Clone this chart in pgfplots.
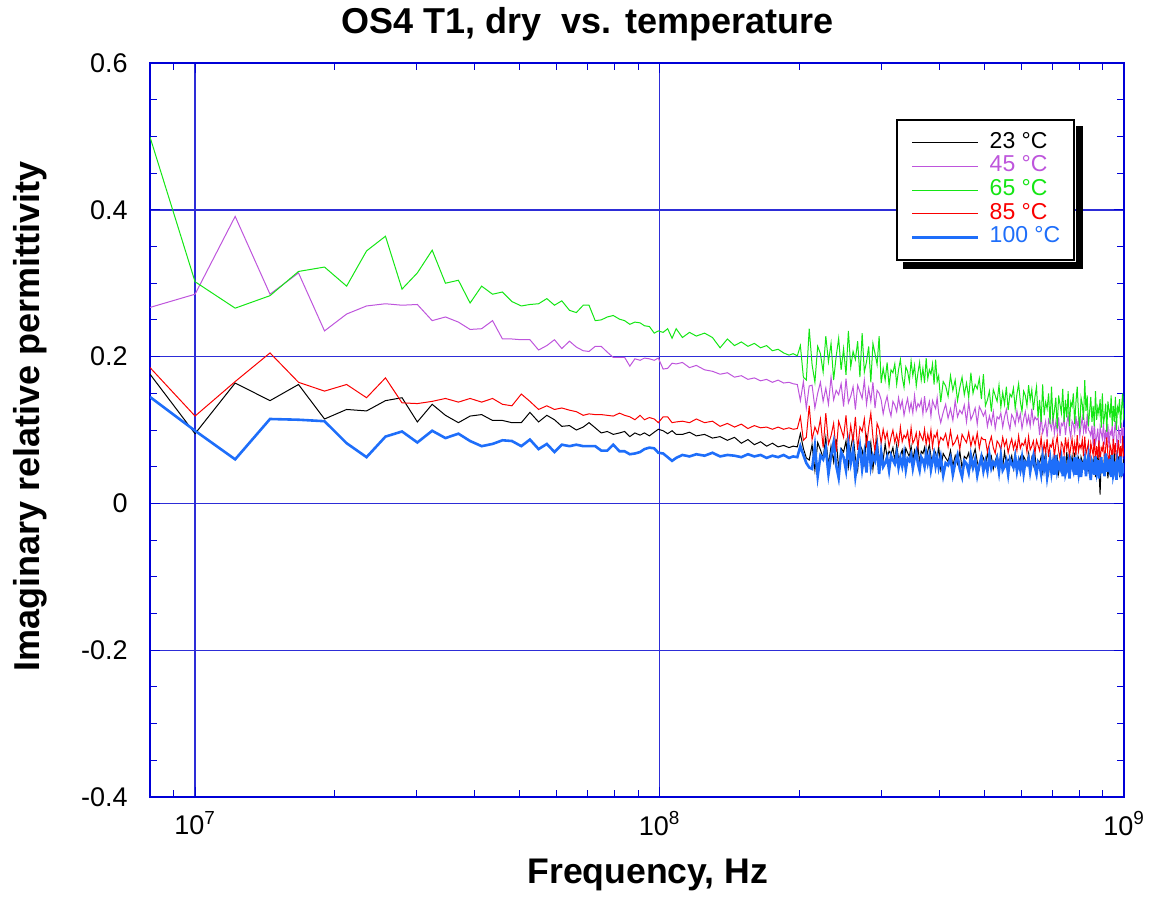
\documentclass[border=0pt]{standalone}
\usepackage{fontspec}
\setmainfont{Liberation Sans}
\usepackage{pgfplots}
\pgfplotsset{compat=1.18}
\usepackage{pgfplotstable}

\definecolor{axblue}{RGB}{0,0,215}
\definecolor{gridblue}{RGB}{45,45,215}
\definecolor{cpurple}{RGB}{190,85,220}
\definecolor{cgreen}{RGB}{20,230,20}
\definecolor{cred}{RGB}{250,0,0}
\definecolor{cblue}{RGB}{30,110,250}

\pgfplotstableread{
f s23 s45 s65 s85 s100
8.0e6 0.176 0.267 0.499 0.185 0.145
10.0e6 0.095 0.285 0.302 0.119 0.099
12.2e6 0.164 0.391 0.266 0.166 0.060
14.5e6 0.140 0.285 0.283 0.205 0.115
16.7e6 0.162 0.314 0.316 0.165 0.114
19.0e6 0.115 0.235 0.322 0.153 0.112
21.2e6 0.128 0.258 0.296 0.162 0.082
23.4e6 0.126 0.269 0.344 0.144 0.063
25.7e6 0.140 0.272 0.364 0.171 0.091
27.9e6 0.144 0.270 0.292 0.137 0.098
30.1e6 0.111 0.271 0.314 0.136 0.083
32.4e6 0.135 0.249 0.345 0.139 0.099
34.6e6 0.120 0.254 0.300 0.143 0.089
36.9e6 0.110 0.247 0.304 0.138 0.095
39.1e6 0.119 0.237 0.273 0.143 0.085
41.4e6 0.121 0.238 0.296 0.138 0.078
43.7e6 0.113 0.249 0.285 0.143 0.081
45.9e6 0.113 0.224 0.288 0.135 0.086
48.1e6 0.110 0.224 0.275 0.133 0.085
50.4e6 0.110 0.223 0.269 0.149 0.078
52.6e6 0.124 0.223 0.271 0.139 0.087
54.9e6 0.111 0.209 0.272 0.128 0.074
57.2e6 0.120 0.215 0.279 0.133 0.081
59.4e6 0.114 0.223 0.270 0.128 0.070
61.6e6 0.105 0.211 0.276 0.130 0.080
64.0e6 0.106 0.221 0.263 0.127 0.078
66.2e6 0.100 0.213 0.260 0.125 0.080
68.5e6 0.104 0.208 0.270 0.120 0.078
70.5e6 0.110 0.207 0.270 0.122 0.078
72.7e6 0.103 0.214 0.249 0.121 0.078
74.9e6 0.096 0.214 0.250 0.121 0.072
77.2e6 0.098 0.206 0.254 0.120 0.072
79.5e6 0.094 0.199 0.256 0.119 0.080
82.0e6 0.096 0.199 0.251 0.123 0.071
84.1e6 0.098 0.199 0.249 0.120 0.071
86.3e6 0.091 0.187 0.244 0.118 0.067
88.5e6 0.096 0.197 0.247 0.114 0.068
90.8e6 0.093 0.195 0.246 0.120 0.070
92.8e6 0.096 0.198 0.242 0.114 0.074
95.1e6 0.092 0.197 0.241 0.117 0.076
97.4e6 0.097 0.195 0.232 0.115 0.075
99.4e6 0.101 0.198 0.235 0.110 0.069
101.8e6 0.099 0.183 0.233 0.118 0.068
104.1e6 0.095 0.184 0.238 0.118 0.063
106.4e6 0.099 0.191 0.225 0.110 0.058
108.6e6 0.094 0.190 0.238 0.111 0.062
112e6 0.094 0.192 0.226 0.112 0.066
116e6 0.097 0.185 0.233 0.110 0.064
120e6 0.092 0.188 0.228 0.115 0.067
125e6 0.094 0.182 0.232 0.110 0.065
130e6 0.089 0.180 0.226 0.112 0.069
135e6 0.091 0.176 0.212 0.105 0.064
140e6 0.086 0.178 0.224 0.109 0.066
145e6 0.090 0.172 0.215 0.104 0.065
150e6 0.082 0.174 0.220 0.108 0.063
155e6 0.087 0.169 0.214 0.102 0.067
160e6 0.080 0.171 0.218 0.106 0.064
165e6 0.084 0.167 0.212 0.103 0.066
170e6 0.078 0.169 0.215 0.104 0.062
175e6 0.082 0.165 0.208 0.101 0.065
180e6 0.077 0.168 0.210 0.104 0.063
185e6 0.079 0.164 0.205 0.101 0.066
190e6 0.076 0.165 0.202 0.103 0.062
194e6 0.078 0.163 0.204 0.101 0.064
198e6 0.077 0.162 0.201 0.102 0.063
201e6 0.095 0.140 0.215 0.118 0.078
204e6 0.075 0.166 0.172 0.086 0.066
207e6 0.062 0.130 0.168 0.090 0.055
210e6 0.059 0.160 0.238 0.133 0.049
213e6 0.080 0.161 0.189 0.087 0.047
216e6 0.045 0.130 0.165 0.104 0.078
219e6 0.083 0.150 0.214 0.095 0.037
222e6 0.073 0.165 0.204 0.115 0.065
225e6 0.062 0.139 0.179 0.076 0.060
228e6 0.090 0.157 0.228 0.123 0.075
231e6 0.052 0.135 0.193 0.081 0.040
234e6 0.078 0.172 0.218 0.092 0.065
237e6 0.057 0.141 0.168 0.109 0.083
240e6 0.088 0.154 0.200 0.070 0.052
243e6 0.047 0.148 0.225 0.112 0.035
246e6 0.075 0.163 0.182 0.101 0.070
249e6 0.070 0.132 0.211 0.090 0.063
252e6 0.085 0.170 0.175 0.120 0.045
255e6 0.050 0.137 0.235 0.078 0.080
258e6 0.075 0.146 0.186 0.106 0.055
261e6 0.093 0.159 0.207 0.084 0.073
264e6 0.062 0.128 0.196 0.118 0.037
267e6 0.045 0.161 0.221 0.073 0.060
270e6 0.080 0.152 0.172 0.104 0.078
273e6 0.073 0.143 0.232 0.098 0.047
276e6 0.055 0.168 0.179 0.115 0.068
279e6 0.090 0.135 0.193 0.076 0.042
282e6 0.065 0.157 0.214 0.104 0.085
285e6 0.083 0.139 0.165 0.123 0.050
288e6 0.047 0.165 0.218 0.090 0.065
291e6 0.070 0.130 0.204 0.070 0.058
294e6 0.088 0.154 0.189 0.109 0.075
297e6 0.057 0.150 0.228 0.101 0.040
300e6 0.072 0.141 0.164 0.082 0.070
303e6 0.059 0.122 0.184 0.101 0.050
306e6 0.081 0.136 0.168 0.087 0.055
309e6 0.063 0.146 0.192 0.097 0.063
312e6 0.071 0.129 0.160 0.077 0.045
315e6 0.067 0.119 0.182 0.090 0.065
318e6 0.076 0.139 0.178 0.100 0.059
321e6 0.058 0.134 0.190 0.083 0.054
324e6 0.080 0.125 0.162 0.094 0.068
327e6 0.060 0.144 0.182 0.080 0.049
330e6 0.065 0.130 0.196 0.104 0.062
333e6 0.073 0.140 0.172 0.084 0.051
336e6 0.055 0.120 0.158 0.093 0.067
339e6 0.075 0.133 0.186 0.089 0.046
342e6 0.069 0.143 0.180 0.098 0.061
345e6 0.064 0.126 0.166 0.079 0.058
348e6 0.078 0.137 0.194 0.103 0.066
351e6 0.059 0.123 0.174 0.082 0.048
354e6 0.072 0.147 0.188 0.087 0.061
357e6 0.061 0.127 0.160 0.096 0.070
360e6 0.077 0.136 0.178 0.076 0.054
363e6 0.056 0.132 0.192 0.097 0.045
366e6 0.071 0.141 0.168 0.091 0.063
369e6 0.068 0.122 0.184 0.086 0.059
372e6 0.076 0.146 0.164 0.101 0.050
375e6 0.058 0.125 0.198 0.080 0.068
378e6 0.071 0.130 0.170 0.094 0.055
381e6 0.080 0.139 0.182 0.083 0.065
384e6 0.064 0.119 0.176 0.100 0.046
387e6 0.055 0.140 0.190 0.077 0.058
390e6 0.073 0.134 0.162 0.093 0.067
393e6 0.069 0.129 0.196 0.090 0.051
396e6 0.060 0.144 0.166 0.098 0.062
399e6 0.078 0.123 0.174 0.079 0.049
403e6 0.047 0.110 0.138 0.090 0.063
408e6 0.068 0.124 0.166 0.086 0.038
413e6 0.062 0.135 0.160 0.095 0.055
418e6 0.057 0.116 0.146 0.077 0.052
423e6 0.072 0.129 0.174 0.099 0.062
428e6 0.051 0.113 0.154 0.079 0.039
433e6 0.065 0.140 0.168 0.084 0.055
438e6 0.054 0.118 0.140 0.092 0.066
443e6 0.071 0.127 0.158 0.074 0.047
448e6 0.048 0.122 0.172 0.094 0.036
453e6 0.064 0.134 0.148 0.088 0.058
458e6 0.061 0.111 0.164 0.083 0.054
463e6 0.069 0.138 0.144 0.097 0.042
468e6 0.050 0.114 0.178 0.078 0.065
473e6 0.064 0.121 0.150 0.091 0.049
478e6 0.074 0.130 0.162 0.080 0.060
483e6 0.057 0.108 0.156 0.096 0.038
488e6 0.047 0.132 0.170 0.075 0.052
493e6 0.067 0.126 0.142 0.090 0.063
498e6 0.062 0.119 0.176 0.087 0.044
503e6 0.051 0.126 0.133 0.087 0.057
508e6 0.068 0.105 0.141 0.070 0.044
513e6 0.056 0.119 0.153 0.082 0.066
518e6 0.064 0.108 0.125 0.091 0.048
523e6 0.047 0.125 0.155 0.076 0.056
528e6 0.058 0.102 0.147 0.068 0.052
533e6 0.066 0.118 0.139 0.085 0.061
538e6 0.052 0.115 0.161 0.081 0.043
543e6 0.062 0.123 0.131 0.073 0.065
548e6 0.050 0.104 0.151 0.090 0.045
553e6 0.070 0.118 0.135 0.078 0.050
558e6 0.053 0.128 0.159 0.086 0.058
563e6 0.060 0.111 0.127 0.069 0.040
568e6 0.057 0.101 0.149 0.080 0.060
573e6 0.065 0.121 0.145 0.088 0.054
578e6 0.048 0.116 0.157 0.074 0.049
583e6 0.069 0.107 0.129 0.084 0.063
588e6 0.051 0.126 0.149 0.072 0.044
593e6 0.056 0.112 0.163 0.092 0.057
598e6 0.063 0.122 0.139 0.075 0.046
603e6 0.046 0.102 0.125 0.082 0.062
608e6 0.064 0.115 0.153 0.079 0.041
613e6 0.059 0.125 0.147 0.087 0.056
618e6 0.054 0.108 0.133 0.070 0.053
623e6 0.068 0.119 0.161 0.091 0.061
628e6 0.050 0.105 0.141 0.073 0.043
633e6 0.062 0.129 0.155 0.078 0.056
638e6 0.052 0.109 0.127 0.085 0.065
643e6 0.066 0.118 0.145 0.068 0.049
648e6 0.047 0.114 0.159 0.086 0.040
653e6 0.058 0.116 0.117 0.079 0.056
658e6 0.055 0.093 0.141 0.072 0.052
663e6 0.064 0.120 0.111 0.090 0.040
668e6 0.043 0.096 0.162 0.066 0.063
673e6 0.058 0.103 0.120 0.082 0.047
678e6 0.069 0.112 0.138 0.069 0.058
683e6 0.050 0.090 0.129 0.088 0.036
688e6 0.040 0.114 0.150 0.063 0.050
693e6 0.061 0.108 0.108 0.080 0.061
698e6 0.057 0.101 0.159 0.077 0.042
703e6 0.046 0.119 0.114 0.087 0.055
708e6 0.067 0.095 0.126 0.064 0.039
713e6 0.052 0.111 0.144 0.080 0.066
718e6 0.063 0.098 0.102 0.091 0.044
723e6 0.041 0.117 0.147 0.072 0.053
728e6 0.055 0.092 0.135 0.061 0.048
733e6 0.066 0.109 0.123 0.083 0.060
738e6 0.047 0.106 0.156 0.079 0.037
743e6 0.060 0.116 0.111 0.067 0.064
748e6 0.044 0.093 0.141 0.090 0.040
753e6 0.070 0.109 0.117 0.074 0.047
758e6 0.049 0.120 0.153 0.085 0.056
763e6 0.058 0.101 0.105 0.063 0.034
768e6 0.053 0.090 0.138 0.077 0.058
773e6 0.064 0.112 0.132 0.088 0.052
778e6 0.043 0.108 0.150 0.069 0.045
783e6 0.069 0.096 0.108 0.082 0.063
788e6 0.046 0.119 0.138 0.066 0.039
793e6 0.052 0.103 0.159 0.093 0.055
798e6 0.061 0.114 0.123 0.071 0.042
803e6 0.040 0.092 0.102 0.080 0.061
808e6 0.063 0.106 0.144 0.075 0.036
813e6 0.057 0.117 0.135 0.087 0.053
818e6 0.050 0.098 0.114 0.064 0.050
823e6 0.067 0.111 0.168 0.091 0.060
828e6 0.044 0.095 0.126 0.067 0.037
833e6 0.060 0.122 0.147 0.074 0.053
838e6 0.047 0.100 0.105 0.083 0.064
843e6 0.066 0.098 0.125 0.052 0.045
848e6 0.034 0.092 0.145 0.082 0.032
853e6 0.056 0.106 0.111 0.074 0.057
858e6 0.052 0.078 0.133 0.066 0.052
863e6 0.064 0.112 0.105 0.088 0.039
868e6 0.036 0.082 0.153 0.058 0.064
873e6 0.056 0.090 0.114 0.078 0.046
878e6 0.070 0.102 0.131 0.062 0.059
883e6 0.046 0.074 0.122 0.086 0.034
888e6 0.012 0.104 0.142 0.054 0.050
893e6 0.060 0.096 0.103 0.076 0.063
898e6 0.054 0.088 0.150 0.072 0.041
903e6 0.040 0.110 0.108 0.084 0.055
908e6 0.068 0.080 0.119 0.056 0.037
913e6 0.048 0.100 0.136 0.076 0.068
918e6 0.062 0.084 0.097 0.090 0.043
923e6 0.034 0.108 0.139 0.066 0.054
928e6 0.052 0.076 0.128 0.052 0.048
933e6 0.066 0.098 0.117 0.080 0.061
938e6 0.042 0.094 0.147 0.074 0.036
943e6 0.058 0.106 0.105 0.060 0.066
948e6 0.038 0.078 0.133 0.088 0.039
953e6 0.072 0.098 0.111 0.068 0.046
958e6 0.044 0.112 0.145 0.082 0.057
963e6 0.056 0.088 0.100 0.054 0.032
968e6 0.050 0.074 0.131 0.072 0.059
973e6 0.064 0.102 0.125 0.086 0.052
978e6 0.036 0.096 0.142 0.062 0.045
983e6 0.070 0.082 0.103 0.078 0.064
988e6 0.040 0.110 0.131 0.058 0.037
993e6 0.048 0.090 0.150 0.092 0.055
998e6 0.060 0.104 0.117 0.064 0.041
1000e6 0.052 0.092 0.120 0.070 0.048
}\datatab

\begin{document}
\begin{tikzpicture}
\begin{axis}[
  scale only axis, width=487pt, height=367pt,
  xmode=log, xmin=8e6, xmax=1e9, ymin=-0.4, ymax=0.6,
  xtick={1e7,1e8,1e9},
  xticklabels={10\textsuperscript{7},10\textsuperscript{8},10\textsuperscript{9}},
  minor xtick={8e6,9e6,2e7,3e7,4e7,5e7,6e7,7e7,8e7,9e7,2e8,3e8,4e8,5e8,6e8,7e8,8e8,9e8},
  ytick={-0.4,-0.2,0,0.2,0.4,0.6},
  yticklabels={-0.4,-0.2,0,0.2,0.4,0.6},
  minor ytick={-0.35,-0.3,-0.25,-0.15,-0.1,-0.05,0.05,0.1,0.15,0.25,0.3,0.35,0.45,0.5,0.55},
  grid=major,
  major grid style={gridblue, line width=0.7pt},
  axis line style={axblue, line width=0.7pt},
  every tick/.style={axblue, line width=0.5pt},
  major tick length=5pt, minor tick length=3.5pt,
  tick align=inside,
  ticklabel style={font=\fontsize{13.5}{16}\selectfont},
  yticklabel style={inner sep=0pt, xshift=-11pt},
  xticklabel style={inner sep=0pt, yshift=-7pt},
  title={OS4 T1, dry\ \ vs. temperature},
  title style={font=\bfseries\fontsize{18}{20}\selectfont, at={(axis description cs:0.449,1.037)}, anchor=center, yshift=0pt},
  xlabel={Frequency, Hz},
  xlabel style={font=\bfseries\fontsize{17.8}{20}\selectfont, at={(axis description cs:0.511,-0.106)}, anchor=center},
  ylabel={Imaginary relative permittivity},
  ylabel style={font=\bfseries\fontsize{18}{20}\selectfont, at={(axis description cs:-0.1232,0.518)}, anchor=center},
  legend image code/.code={\draw[#1] (0pt,0pt) -- (33pt,0pt);},
  legend cell align=left,
  legend style={name=leg, at={(0.766,0.9237)}, anchor=north west, draw=black, line width=1pt,
    fill=white,
    font=\fontsize{11.5}{12}\selectfont, row sep=0pt, column sep=5pt,
    inner xsep=7pt, inner ysep=5.5pt,
    nodes={inner sep=0pt, text height=8.6pt, text depth=3.2pt}},
]
\addplot[black, line width=0.5pt] table[x=f,y=s23]{\datatab};
\addlegendentry{\textcolor{black}{23 °C}}
\addplot[cpurple, line width=0.5pt] table[x=f,y=s45]{\datatab};
\addlegendentry{\textcolor{cpurple}{45 °C}}
\addplot[cgreen, line width=0.5pt] table[x=f,y=s65]{\datatab};
\addlegendentry{\textcolor{cgreen}{65 °C}}
\addplot[cred, line width=0.5pt] table[x=f,y=s85]{\datatab};
\addlegendentry{\textcolor{cred}{85 °C}}
\addplot[cblue, line width=1.3pt] table[x=f,y=s100]{\datatab};
\addlegendentry{\textcolor{cblue}{100 °C}}
\coordinate (bl) at (rel axis cs:0,0);
\coordinate (tr) at (rel axis cs:1,1);
\end{axis}
\fill[black] ([xshift=0.5pt,yshift=-3.5pt]leg.north east) rectangle ([xshift=4pt,yshift=-4pt]leg.south east);
\fill[black] ([xshift=3.5pt,yshift=-0.5pt]leg.south west) rectangle ([xshift=4pt,yshift=-4pt]leg.south east);
\pgfresetboundingbox
\path ([xshift=-75pt,yshift=-50.5pt]bl) rectangle ([xshift=13.5pt,yshift=31.5pt]tr);
\end{tikzpicture}
\end{document}
